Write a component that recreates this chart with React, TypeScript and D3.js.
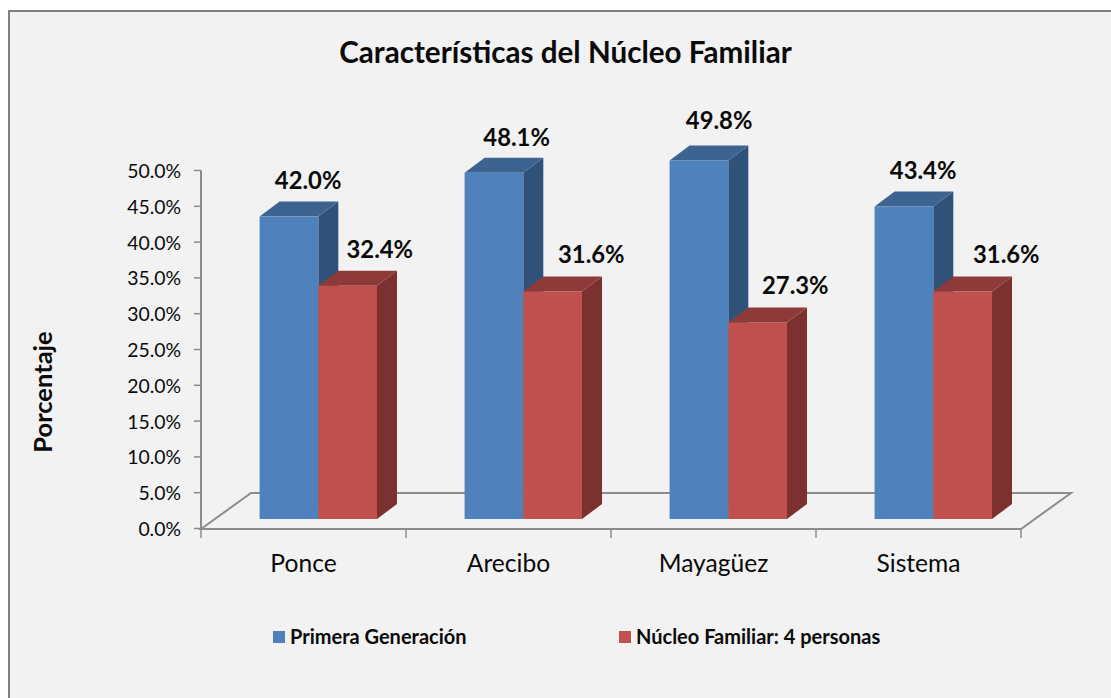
import React from "react";
import * as d3 from "d3";

const categories = ["Ponce", "Arecibo", "Mayagüez", "Sistema"];
const seriesNames = ["Primera Generación", "Núcleo Familiar: 4 personas"];
const primeraGeneracion = [42.0, 48.1, 49.8, 43.4];
const nucleoFamiliar = [32.4, 31.6, 27.3, 31.6];
const yTicks = [0, 5, 10, 15, 20, 25, 30, 35, 40, 45, 50];

const FONT = "Lato, Carlito, Calibri, sans-serif";
const W = 1111, H = 698;
const DX = 20, DY = -15;
const FLOORX = 50, FLOORY = -36;
const INK = "#0a0a0a", GRID = "#8c8c8c";

const palette = [
  { front: "#4f81bd", top: "#3d6491", side: "#305278" },
  { front: "#c0504d", top: "#8e3a38", side: "#7c3130" },
];
// hand placement of the value labels relative to the bar's front-face centre
const labelShift = [
  [[19.2, -28], [32.2, -28]],
  [[22.7, -27], [38.7, -28]],
  [[20.2, -31], [37.7, -28]],
  [[19.2, -28], [43.7, -28]],
];

const xAxis = d3.scaleBand<string>().domain(categories).range([201, 1021]);
const yAxis = d3.scaleLinear().domain([0, 50]).range([528.5, 170.5]);
const barY = d3.scaleLinear().domain([0, 50]).range([519, 159]);
const barW = 58.7;
const barInset = 58.6;
const fmt = (v: number) => `${v.toFixed(1)}%`;

export default function App() {
  const series = [primeraGeneracion, nucleoFamiliar];
  const axisY0 = yAxis(0) + 0.5;
  const xEdges = [...categories.map((c) => xAxis(c) as number), 1021];
  return (
    <svg width={W} height={H} viewBox={`0 0 ${W} ${H}`} style={{ position: "absolute", left: 0, top: 0, display: "block", background: "#fff" }} fontFamily={FONT}>
      <rect x={9} y={11} width={W + 20} height={H + 20} fill="#f2f2f2" stroke="#808080" strokeWidth={2} />
      <text x={565.5} y={63} textAnchor="middle" fontSize={29.6} fontWeight={700} fill={INK}>Características del Núcleo Familiar</text>

      {/* floor */}
      <path d={`M201,${axisY0}L${201 + FLOORX},${axisY0 + FLOORY}H${1021 + FLOORX}L1021,${axisY0}Z`} fill="none" stroke={GRID} strokeWidth={2} />
      {/* axes */}
      <path d={`M201,${yAxis(50)}V${axisY0}`} stroke={GRID} strokeWidth={2} fill="none" />
      {yTicks.map((t) => (
        <g key={t}>
          <line x1={194} x2={201} y1={yAxis(t)} y2={yAxis(t)} stroke={GRID} strokeWidth={1.5} />
          <text x={181} y={yAxis(t) + 7.5} textAnchor="end" fontSize={19.4} fill={INK}>{fmt(t)}</text>
        </g>
      ))}
      {xEdges.map((x) => (
        <line key={x} x1={x} x2={x} y1={axisY0} y2={axisY0 + 9} stroke={GRID} strokeWidth={1.5} />
      ))}
      {categories.map((c) => (
        <text key={c} x={(xAxis(c) as number) + xAxis.bandwidth() / 2} y={572} textAnchor="middle" fontSize={24.6} fill={INK}>{c}</text>
      ))}

      {/* bars */}
      {categories.map((c, i) => {
        const x0 = (xAxis(c) as number) + barInset;
        return (
          <g key={c}>
            {series.map((s, k) => {
              const x = x0 + k * barW, y = barY(s[i]), b = barY(0), col = palette[k];
              return (
                <g key={k}>
                  <path d={`M${x + barW},${y}l${DX},${DY}V${b + DY}L${x + barW},${b}Z`} fill={col.side} />
                  <path d={`M${x},${y}l${DX},${DY}h${barW}l${-DX},${-DY}Z`} fill={col.top} />
                  <rect x={x} y={y} width={barW} height={b - y} fill={col.front} />
                </g>
              );
            })}
          </g>
        );
      })}
      {/* value labels, above every bar */}
      {categories.map((c, i) =>
        series.map((s, k) => (
          <text key={`${c}${k}`} x={(xAxis(c) as number) + barInset + k * barW + barW / 2 + labelShift[i][k][0]} y={barY(s[i]) + labelShift[i][k][1]} textAnchor="middle" fontSize={23.8} fontWeight={700} fill={INK}>{fmt(s[i])}</text>
        ))
      )}

      <text transform="translate(51.5,392) rotate(-90)" textAnchor="middle" fontSize={25.5} fontWeight={700} fill={INK}>Porcentaje</text>

      {/* legend */}
      {seriesNames.map((n, k) => {
        const lx = [273, 619][k];
        return (
          <g key={n}>
            <rect x={lx} y={631} width={12} height={12} fill={palette[k].front} />
            <text x={lx + 17} y={643.5} fontSize={20} fontWeight={700} fill={INK}>{n}</text>
          </g>
        );
      })}
    </svg>
  );
}
